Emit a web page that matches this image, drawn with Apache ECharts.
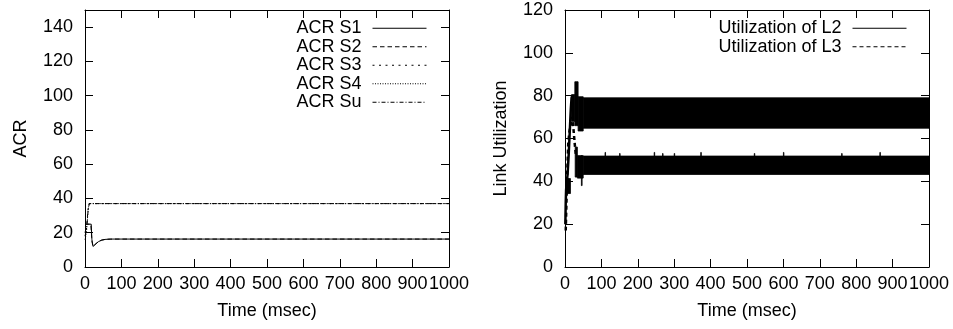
<!DOCTYPE html>
<html>
<head>
<meta charset="utf-8">
<script src="https://cdn.jsdelivr.net/npm/echarts@6/dist/echarts.min.js"></script>
<style>
html,body{margin:0;padding:0;background:#fff;}
#chart{width:953px;height:329px;}
</style>
</head>
<body>
<div id="chart"></div>
<script>
// ---------- Data: left panel (ACR vs time) ----------
const acrNames = ['ACR S1', 'ACR S2', 'ACR S3', 'ACR S4', 'ACR Su'];
const acrS1 = [[0,25],[17,25],[19,16],[22,12],[24,11.8],[30,13.5],[37,14.8],[45,15.6],[55,16.1],[70,16.3],[1000,16.3]];
const acrS2 = [[0,25],[16,25],[19,15],[22,12],[25,12],[31,13.8],[38,15],[47,15.8],[60,16.2],[80,16.3],[1000,16.3]];
const acrS3 = [[0,18],[4,22],[8,33],[11,37],[1000,37]];
const acrS4 = [[0,16],[4,20],[8,32],[11,37],[1000,37]];
const acrSu = [[0,20],[5,24],[9,34],[12,37],[1000,37]];

// ---------- Data: right panel (link utilization vs time) ----------
const utilNames = ['Utilization of L2', 'Utilization of L3'];
// start-up transients
const l2Line = [[1,20],[2,30],[3,36],[5,40],[7,43],[10,52],[13,63],[16,74],[18,79],[20,80]];
const l3Line = [[2,17],[4,30],[6,43],[9,58],[12,63],[15,66],[18,70],[21,69],[24,63],[27,57],[30,52]];
// dense oscillation envelopes: [tStart, tEnd, low, high]
const l2Band = [[18,27,68,80.5],[27,36,66,86.5],[36,50,63.5,79.5],[50,1000,64.8,79]];
const l3Band = [[4,15,34.3,41.3],[28,34,42,56],[34,50,41.5,52],[45,47,38,52],[50,1000,43.2,51.8]];
// isolated upward peaks of L3 above its envelope: [tStart, tEnd, low, high]
const l3Peaks = [[110,111,50,53.5],[150,151,50,53],[245,246,50,53.5],[268,269,50,53],[300,301,50,53],[373,374,50,53.5],[520,521,50,53],[600,601,50,53.5],[760,761,50,53],[865,866,50,53.5]];

const FONT = '"Liberation Sans", Arial, Helvetica, sans-serif';
const FS = 18;

function bandItem(params, api) {
  const p0 = api.coord([api.value(0), api.value(3)]);
  const p1 = api.coord([api.value(1), api.value(2)]);
  return {
    type: 'rect',
    shape: { x: p0[0], y: p0[1], width: Math.max(p1[0] - p0[0], 0.5), height: p1[1] - p0[1] },
    style: { fill: '#000', stroke: '#000', lineWidth: 0.8 }
  };
}

function xAxes(gridIndex) {
  return [
    {
      type: 'value', gridIndex, position: 'bottom', min: 0, max: 1000, interval: 100,
      name: 'Time (msec)', nameLocation: 'middle', nameGap: 35,
      nameTextStyle: { fontSize: FS, color: '#000', fontFamily: FONT },
      axisLine: { show: true, onZero: false, lineStyle: { color: '#000', width: 1 } },
      axisTick: { show: true, inside: true, length: 8, lineStyle: { color: '#000' } },
      axisLabel: { show: true, margin: 8, fontSize: FS, color: '#000', fontFamily: FONT, hideOverlap: false,
                   formatter: v => String(v) },
      splitLine: { show: false }
    },
    {
      type: 'value', gridIndex, position: 'top', min: 0, max: 1000, interval: 100,
      axisLine: { show: true, onZero: false, lineStyle: { color: '#000', width: 1 } },
      axisTick: { show: true, inside: true, length: 8, lineStyle: { color: '#000' } },
      axisLabel: { show: false },
      splitLine: { show: false }
    }
  ];
}

function yAxes(gridIndex, max, name) {
  return [
    {
      type: 'value', gridIndex, position: 'left', min: 0, max: max, interval: 20,
      name: name, nameLocation: 'middle', nameGap: 55, nameRotate: 90,
      nameTextStyle: { fontSize: FS, color: '#000', fontFamily: FONT },
      axisLine: { show: true, onZero: false, lineStyle: { color: '#000', width: 1 } },
      axisTick: { show: true, inside: true, length: 8, lineStyle: { color: '#000' } },
      axisLabel: { show: true, margin: 12, fontSize: FS, color: '#000', fontFamily: FONT, showMaxLabel: max % 20 === 0,
                   formatter: v => String(v) },
      splitLine: { show: false }
    },
    {
      type: 'value', gridIndex, position: 'right', min: 0, max: max, interval: 20,
      axisLine: { show: true, onZero: false, lineStyle: { color: '#000', width: 1 } },
      axisTick: { show: true, inside: true, length: 8, lineStyle: { color: '#000' } },
      axisLabel: { show: false },
      splitLine: { show: false }
    }
  ];
}

function lineSeries(name, data, type, xi, yi, width) {
  return {
    name, type: 'line', data, xAxisIndex: xi, yAxisIndex: yi,
    symbol: 'none', showSymbol: false, animation: false, z: 3,
    lineStyle: { color: '#000', width: width || 1, type: type },
    itemStyle: { color: '#000' }
  };
}

const legendCommon = {
  orient: 'vertical', align: 'right', itemWidth: 54, itemHeight: 10, itemGap: 0, padding: 0,
  selectedMode: false,
  itemStyle: { opacity: 0, borderWidth: 0 },
  lineStyle: { width: 1 },
  textStyle: { fontSize: FS, lineHeight: 18.5, color: '#000', fontFamily: FONT, padding: [0, 6, 0, 0] }
};

const option = {
  backgroundColor: '#fff',
  animation: false,
  grid: [
    { left: 85, right: 504, top: 10, bottom: 62, containLabel: false },
    { left: 565, right: 24, top: 10, bottom: 62, containLabel: false }
  ],
  xAxis: [...xAxes(0), ...xAxes(1)],
  yAxis: [...yAxes(0, 150, 'ACR'), ...yAxes(1, 120, 'Link Utilization')],
  legend: [
    Object.assign({}, legendCommon, { data: acrNames, right: 953 - 427, top: 19 }),
    Object.assign({}, legendCommon, { data: utilNames, right: 953 - 907, top: 19 })
  ],
  series: [
    lineSeries('ACR S1', acrS1, 'solid', 0, 0),
    lineSeries('ACR S2', acrS2, [4.5, 3], 0, 0),
    lineSeries('ACR S3', acrS3, [2, 4.5], 0, 0),
    lineSeries('ACR S4', acrS4, [1, 1.5], 0, 0),
    lineSeries('ACR Su', acrSu, [4, 2, 1, 2], 0, 0),
    lineSeries('Utilization of L2', l2Line, 'solid', 2, 2, 2.5),
    lineSeries('Utilization of L3', l3Line, [4, 3], 2, 2, 2.5),
    {
      name: 'Utilization of L2', type: 'custom', xAxisIndex: 2, yAxisIndex: 2,
      renderItem: bandItem, data: l2Band, encode: { x: [0, 1], y: [2, 3] }, z: 2, animation: false
    },
    {
      name: 'Utilization of L3', type: 'custom', xAxisIndex: 2, yAxisIndex: 2,
      renderItem: bandItem, data: l3Band.concat(l3Peaks), encode: { x: [0, 1], y: [2, 3] }, z: 2, animation: false
    }
  ]
};

const chart = echarts.init(document.getElementById('chart'), null, { renderer: 'canvas' });
chart.setOption(option);
</script>
</body>
</html>
